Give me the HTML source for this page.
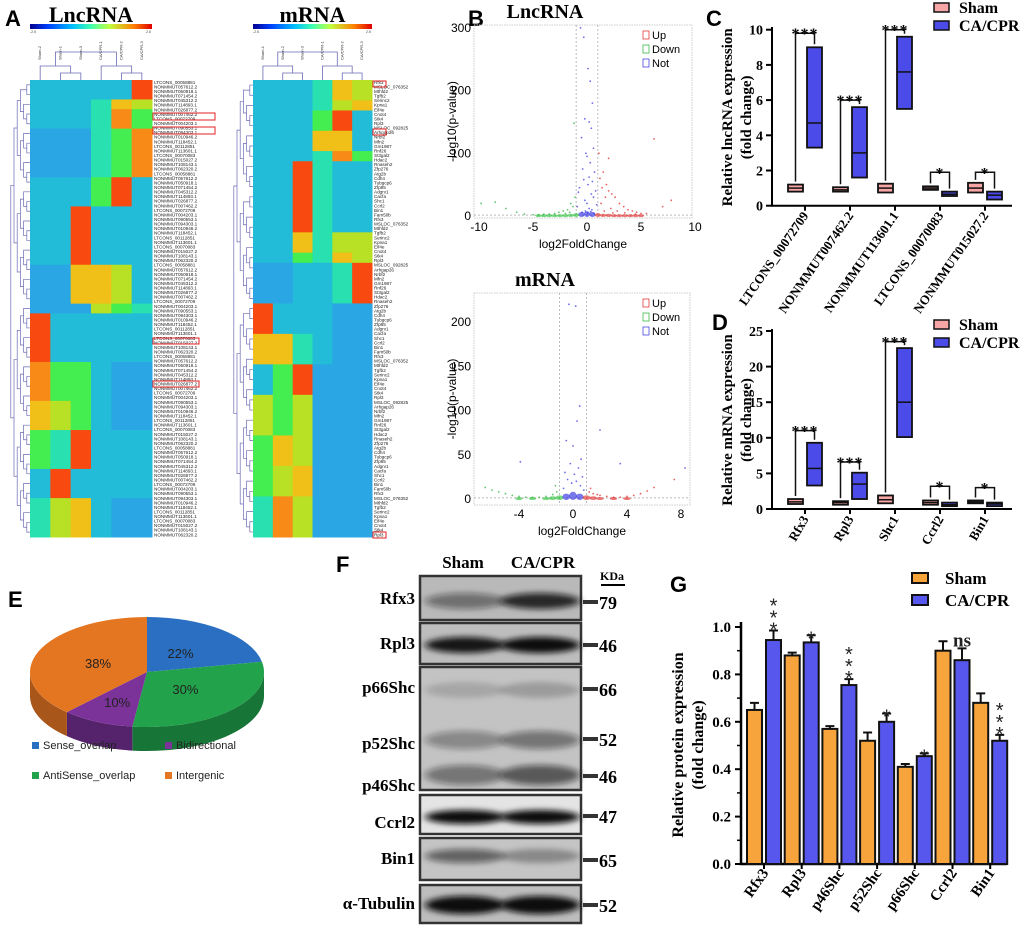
<!DOCTYPE html>
<html><head><meta charset="utf-8"><style>
html,body{margin:0;padding:0;background:#fff;}
svg{display:block;}
.ser{font-family:"Liberation Serif",serif;font-weight:bold;}
.sans{font-family:"Liberation Sans",sans-serif;}
</style></head>
<body>
<svg id="fig" width="1020" height="929" viewBox="0 0 1020 929" xmlns="http://www.w3.org/2000/svg">
<defs>
<linearGradient id="jet" x1="0" x2="1" y1="0" y2="0">
<stop offset="0" stop-color="#00008f"/><stop offset="0.15" stop-color="#0040ff"/><stop offset="0.35" stop-color="#00c0ff"/><stop offset="0.5" stop-color="#40ffb0"/><stop offset="0.65" stop-color="#c0ff40"/><stop offset="0.85" stop-color="#ff8000"/><stop offset="1" stop-color="#e00000"/>
</linearGradient>
<filter id="blur" x="-20%" y="-50%" width="140%" height="200%"><feGaussianBlur stdDeviation="4 3"/></filter>
</defs>
</svg>
<script>
// ---------- DATA ----------
const heatLncRows=[["333339",2],["333476",1],["333485",2],["222458",5],["333593",3],["339333",6],["227763",4],["222654",1],["933333",5],["855322",4],["765322",3],["549333",4],["393333",3],["467322",4]];
const heatMrnaRows=[["333476",2],["333467",1],["333593",2],["333773",2],["333485",1],["339433",7],["337466",2],["335476",1],["223349",4],["933322",3],["774322",3],["359222",3],["656222",4],["576222",3],["567222",3],["486222",4]];
const heatColors=["#00008f","#0050ff","#2aa6e4","#22bcd8","#28e0b0","#44ee50","#b8e024","#f0c018","#f88a18","#f84a10"];
const lncNames=["LTCONS_00058881","NONMMUT057612.2","NONMMUT050918.1","NONMMUT071454.2","NONMMUT045312.2","NONMMUT114893.1","NONMMUT026877.2","NONMMUT007462.2","LTCONS_00072709","NONMMUT004203.1","NONMMUT090553.1","NONMMUT094303.1","NONMMUT010946.2","NONMMUT118452.1","LTCONS_00112851","NONMMUT113601.1","LTCONS_00070083","NONMMUT015027.2","NONMMUT108143.1","NONMMUT062320.2"];
const mrnaNames=["Rfx3","MSLOC_076352","Mthfd2","Tgfb2","Serinc2","Kpna1","Eif4e","Cnot4","Stk4","Rpl3","MSLOC_092825","Arhgap26","Nrbf2","Mfn2","Gm1987","Rnf26","St3gal2","Hdac2","Rnaseh2","Zfp276","Atg2b","Cdh4","Tubgcp6","Zfp85","Adgrv1","Cacfa","Shc1","Ccrl2","Bin1","Fam50b"];
const lncNotX=[-0.6,-0.3,0.1,0.3,0.5,-0.2,0.2,0.4,-0.5,0.6,-0.1,0.0,0.3,-0.4,0.7,0.2,-0.3,0.5,0.1,-0.7,0.8,-0.8,0.4,0.6,-0.2,0.0,0.9,-0.9,0.2,0.45,-0.15,0.35,-0.45,0.05,0.65];
const lncNotY=[300,285,235,215,180,155,150,140,125,108,100,95,85,75,70,62,58,55,50,45,40,38,35,30,25,20,18,15,12,10,8,7,6,5,4];
const lncUpX=[1.2,1.5,1.8,2.0,2.3,2.6,3.0,3.4,3.8,4.2,4.6,5.0,5.5,6.2,7.0,7.8,1.1,1.4,1.7,2.2,2.8,3.5,4.5,1.3,2.0,1.6,2.4];
const lncUpY=[60,70,50,40,35,30,20,15,10,8,6,4,4,123,15,25,100,45,30,12,8,5,3,20,92,8,5];
const lncDownX=[-1.2,-1.5,-1.8,-2.2,-2.6,-3.0,-3.5,-4.0,-4.5,-5.0,-5.8,-6.5,-7.5,-8.5,-9.8,-1.1,-1.3,-1.6,-2.0];
const lncDownY=[148,20,10,8,6,4,3,3,2,2,3,6,12,22,20,30,15,6,4];
const lncBaseX=[-4.5,-4,-3.5,-3,-2.5,-2,-1.5,-1,-0.5,0,0.5,1,1.5,2,2.5,3,3.5,4,4.5,5];
const lncBaseY=[1,1,1,1,1,1,2,3,5,6,5,3,2,2,1,1,1,1,1,1];
const mrnaNotX=[-0.3,0.2,0.5,0.3,-0.5,0.0,0.6,-0.2,0.4,-0.6,0.1,0.7,-0.4,0.25,-0.1,0.55,-0.7,0.8,2.0,-3.9,3.5,8.3];
const mrnaNotY=[220,218,105,88,66,60,45,40,35,30,28,25,22,20,18,15,12,10,78,42,40,35];
const mrnaUpX=[1.2,1.5,2.0,2.5,3.0,3.5,4.0,4.5,5.0,5.5,6.0,1.3,1.8,7.5];
const mrnaUpY=[8,6,4,3,2,2,3,4,6,9,13,12,5,22];
const mrnaDownX=[-1.2,-1.5,-2.0,-2.5,-3.0,-3.5,-4.0,-4.5,-5.0,-5.5,-6.0,-6.5,-1.3];
const mrnaDownY=[8,5,3,2,2,2,3,4,6,8,10,13,15];
const mrnaBaseX=[-4,-3,-2,-1.5,-1,-0.5,0,0.5,1,1.5,2,3,4];
const mrnaBaseY=[1,1,1,2,3,5,7,5,3,2,1,1,1];
const lncCats=["LTCONS_00072709","NONMMUT007462.2","NONMMUT113601.1","LTCONS_00070083","NONMMUT015027.2"];
const lncShamMin=[0.8,0.8,0.75,0.9,0.75], lncShamMed=[1.0,0.9,1.0,1.0,1.0], lncShamMax=[1.2,1.05,1.25,1.1,1.3];
const lncCaMin=[3.3,1.6,5.5,0.55,0.35], lncCaMed=[4.7,3.0,7.6,0.65,0.6], lncCaMax=[9.0,5.6,9.6,0.8,0.8];
const lncSig=["***","***","***","*","*"], lncBracket=[9.8,6.0,10.0,1.9,1.9];
const lncTicks=[0,2,4,6,8,10];
const mCats=["Rfx3","Rpl3","Shc1","Ccrl2","Bin1"];
const mShamMin=[0.7,0.6,0.8,0.6,0.8], mShamMed=[1.0,0.9,1.3,0.9,1.0], mShamMax=[1.4,1.1,1.9,1.2,1.2];
const mCaMin=[3.3,1.4,10.1,0.4,0.4], mCaMed=[5.7,3.5,15.0,0.6,0.7], mCaMax=[9.3,5.1,22.6,0.9,0.9];
const mSig=["***","***","***","*","*"], mBracket=[11,6.6,23.5,3.2,3.0];
const mTicks=[0,5,10,15,20,25];
const pieLabels=["Sense_overlap","AntiSense_overlap","Bidirectional","Intergenic"];
const pieValues=[22,30,10,38];
const protCats=["Rfx3","Rpl3","p46Shc","p52Shc","p66Shc","Ccrl2","Bin1"];
const protSham=[0.65,0.88,0.57,0.52,0.41,0.90,0.68];
const protShamErr=[0.03,0.012,0.012,0.035,0.012,0.04,0.04];
const protCa=[0.945,0.935,0.755,0.60,0.455,0.86,0.52];
const protCaErr=[0.04,0.03,0.025,0.035,0.012,0.05,0.025];
const protSig=["***","*","***","*","*","ns","***"];
const protTicks=[0,0.2,0.4,0.6,0.8,1.0];

// ---------- HELPERS ----------
const NS="http://www.w3.org/2000/svg";
const svg=document.getElementById("fig");
function mk(tag,attrs,parent){const e=document.createElementNS(NS,tag);for(const k in attrs)e.setAttribute(k,attrs[k]);(parent||svg).appendChild(e);return e;}
function tx(x,y,s,attrs,parent){const t=mk("text",Object.assign({x:x,y:y},attrs||{}),parent);t.textContent=s;return t;}
function grp(name){const g=mk("g",{});return g;}

[["A",5,26],["B",468,26],["C",706,26],["D",712,330],["E",8,607],["F",336,572],["G",670,592]].forEach(function(p){
  const t=tx(p[1],p[2],p[0],{"font-family":"Liberation Sans,sans-serif","font-weight":"bold","font-size":"22"});
  
  
});

// ---------- PANEL A ----------
function heatmap(rows,x0,x1,y0,y1,names,title,samples,key){
  const g=grp("heatmap-"+key);
  const t=tx((x0+x1)/2,22,title,{"class":"ser","font-size":"22","text-anchor":"middle"},g);
  
  
  const cb=mk("rect",{x:x0,y:24,width:x1-x0,height:5,fill:"url(#jet)"},g);
  
  
  tx(x0,33,"-2.5",{"font-size":"3.5","fill":"#444","font-family":"Liberation Sans,sans-serif"},g);
  tx(x1-6,33,"2.5",{"font-size":"3.5","fill":"#444","font-family":"Liberation Sans,sans-serif"},g);
  let expanded=[];rows.forEach(function(r){for(let i=0;i<r[1];i++)expanded.push(r[0]);});
  const rh=(y1-y0)/expanded.length, cw=(x1-x0)/6;
  expanded.forEach(function(s,ri){
    for(let c=0;c<6;c++){
      const cell=mk("rect",{x:x0+c*cw,y:y0+ri*rh,width:cw+0.5,height:rh+0.5,fill:heatColors[+s[c]]},g);
      
      
    }
  });
  const nLab=100, lh=(y1-y0)/nLab;
  for(let i=0;i<nLab;i++){
    const l=tx(x1+2,y0+i*lh+lh*0.85,names[i%names.length],{"font-size":"4.6","font-family":"Liberation Sans,sans-serif","fill":"#222"},g);
    
    
  }
  samples.forEach(function(s,c){
    const l=tx(0,0,s,{"font-size":"4","font-family":"Liberation Sans,sans-serif","fill":"#333","transform":"translate("+(x0+c*cw+cw/2+1)+",60) rotate(-90)"},g);
    
    
  });
  const dc="#6b6bb5";
  function topTree(lo,hi){ if(hi-lo===1) return {x:x0+lo*cw+cw/2,y:y0};
    const m=Math.floor((lo+hi)/2);const a=topTree(lo,m),b=topTree(m,hi);const y=Math.min(a.y,b.y)-(hi-lo>=6?14:7);
    const p=mk("path",{d:"M"+a.x+","+a.y+"V"+y+"H"+b.x+"V"+b.y,fill:"none",stroke:dc,"stroke-width":"0.8"},g);
    
    
    return {x:(a.x+b.x)/2,y:y};}
  topTree(0,6);
  const n=expanded.length;
  function leftTree(lo,hi){ if(hi-lo===1) return {x:x0,y:y0+lo*rh+rh/2};
    const m=Math.floor((lo+hi)/2);const a=leftTree(lo,m),b=leftTree(m,hi);const x=Math.min(a.x,b.x)-3.2;
    const p=mk("path",{d:"M"+a.x+","+a.y+"H"+x+"V"+b.y+"H"+b.x,fill:"none",stroke:dc,"stroke-width":"0.7"},g);
    
    
    return {x:x,y:(a.y+b.y)/2};}
  leftTree(0,n);
}
heatmap(heatLncRows,30,152,80,537,lncNames,"LncRNA",["Sham-2","Sham-1","Sham-3","CA/CPR-1","CA/CPR-2","CA/CPR-3"],"lncrna");
heatmap(heatMrnaRows,253,372,80,537,mrnaNames,"mRNA",["Sham-1","Sham-2","Sham-3","CA/CPR-1","CA/CPR-2","CA/CPR-3"],"mrna");
[[153,113,62,7],[153,127,62,7],[153,338,46,6],[153,381,46,6],[373,81,13,6],[373,129,13,6],[373,532,13,6]].forEach(function(b){
  const r=mk("rect",{x:b[0],y:b[1],width:b[2],height:b[3],fill:"none",stroke:"#e02020","stroke-width":"1"});
  
  
});

// ---------- PANEL B ----------
function volcano(key,title,fx0,fx1,fy0,fy1,x0px,xs,y0px,ys,xt,yt,titleY,data){
  const g=grp("volcano-"+key);
  const X=function(v){return x0px+xs*v;}, Y=function(v){return y0px-ys*v;};
  const t=tx(545,titleY,title,{"class":"ser","font-size":"20","text-anchor":"middle"},g);
  
  
  const fr=mk("rect",{x:fx0,y:fy0,width:fx1-fx0,height:fy1-fy0,fill:"none",stroke:"#ccc","stroke-width":"1","stroke-dasharray":"1.5,1"},g);
  
  
  [-1,1].forEach(function(v){const l=mk("line",{x1:X(v),x2:X(v),y1:fy0,y2:fy1,stroke:"#bbb","stroke-dasharray":"2,2"},g);
    
    });
  const hl=mk("line",{x1:fx0,x2:fx1,y1:Y(1.3),y2:Y(1.3),stroke:"#bbb","stroke-dasharray":"2,2"},g);
  
  
  function pts(xa,ya,col,r,nm){xa.forEach(function(v,i){
    const c=mk("circle",{cx:X(v),cy:Y(ya[i]),r:r,fill:col,"fill-opacity":"0.7"},g);
    
    });}
  data.base[0].forEach(function(v,i){
    const col=v>=1?"#e02020":(v<=-1?"#20c030":"#2020e0");
    const e=mk("ellipse",{cx:X(v),cy:Y(data.base[1][i]/2),rx:xs*0.28,ry:Math.max(1.5,ys*data.base[1][i]/2+1),fill:col,"fill-opacity":"0.6"},g);
    
    
  });
  pts(data.not[0],data.not[1],"#3030e0",0.9,"not-point");
  pts(data.up[0],data.up[1],"#e02020",0.9,"up-point");
  pts(data.down[0],data.down[1],"#20b030",0.9,"down-point");
  xt.forEach(function(v){const l=tx(X(v),fy1+13,String(v),{"class":"sans","font-size":"12","text-anchor":"middle"},g);
    
    });
  yt.forEach(function(v){const l=tx(fx0-3,Y(v)+4,String(v),{"class":"sans","font-size":"12","text-anchor":"end"},g);
    
    });
  const xl=tx((fx0+fx1)/2,fy1+30,"log2FoldChange",{"class":"sans","font-size":"12","text-anchor":"middle"},g);
  
  
  const yl=tx(0,0,"-log10(p-value)",{"class":"sans","font-size":"12","text-anchor":"middle","transform":"translate(456,"+((fy0+fy1)/2)+") rotate(-90)"},g);
  
  
  [["Up","#e02020"],["Down","#20b030"],["Not","#3030e0"]].forEach(function(e,i){
    const yy=fy0+6+i*14;
    const b=mk("rect",{x:643,y:yy,width:6,height:8,fill:"none",stroke:e[1],"stroke-width":"0.7"},g);
    
    
    const l=tx(652,yy+8,e[0],{"class":"sans","font-size":"11"},g);
    
    
  });
}
volcano("lncrna","LncRNA",474,692,25,218,587,10.8,216,0.627,[-10,-5,0,5,10],[0,100,200,300],18,
  {not:[lncNotX,lncNotY],up:[lncUpX,lncUpY],down:[lncDownX,lncDownY],base:[lncBaseX,lncBaseY]});
volcano("mrna","mRNA",474,690,293,505,573,13.5,499,0.885,[-4,0,4,8],[0,50,100,150,200],286,
  {not:[mrnaNotX,mrnaNotY],up:[mrnaUpX,mrnaUpY],down:[mrnaDownX,mrnaDownY],base:[mrnaBaseX,mrnaBaseY]});

// ---------- PANELS C & D ----------
function boxPanel(key,cats,sMin,sMed,sMax,cMin,cMed,cMax,sig,br,ticks,y0px,ys,yTop,title,labAngle,legY){
  const g=grp("boxplot-"+key);
  const Y=function(v){return y0px-ys*v;}, GX=function(i){return 805+i*45;};
  const ax=mk("path",{d:"M772,"+(yTop-2)+"V"+y0px+"H1012",fill:"none",stroke:"#000","stroke-width":"2"},g);
  
  
  ticks.forEach(function(v){
    const tk=mk("line",{x1:766,x2:772,y1:Y(v),y2:Y(v),stroke:"#000","stroke-width":"2"},g);
    
    
    const l=tx(763,Y(v)+5,String(v),{"class":"ser","font-size":"14","text-anchor":"end"},g);
    
    
  });
  cats.forEach(function(c,i){
    const gx=GX(i);
    const tk=mk("line",{x1:gx,x2:gx,y1:y0px,y2:y0px+5,stroke:"#000","stroke-width":"2"},g);
    
    
    const l=tx(0,0,c,{"class":"ser","font-size":"13","text-anchor":"end","transform":"translate("+(gx+4)+","+(y0px+10)+") rotate("+labAngle+")"},g);
    
    
    const sx=gx-17, cx=gx+2;
    const b1=mk("rect",{x:sx,y:Y(sMax[i]),width:15,height:Y(sMin[i])-Y(sMax[i]),fill:"#f7a5a5",stroke:"#111","stroke-width":"1.8"},g);
    
    
    const m1=mk("line",{x1:sx,x2:sx+15,y1:Y(sMed[i]),y2:Y(sMed[i]),stroke:"#111","stroke-width":"1.5"},g);
    
    
    const b2=mk("rect",{x:cx,y:Y(cMax[i]),width:15,height:Y(cMin[i])-Y(cMax[i]),fill:"#4b4bea",stroke:"#111","stroke-width":"1.8"},g);
    
    
    const m2=mk("line",{x1:cx,x2:cx+15,y1:Y(cMed[i]),y2:Y(cMed[i]),stroke:"#111","stroke-width":"1.5"},g);
    
    
    const bk=mk("path",{d:"M"+(sx+7.5)+","+(Y(sMax[i])-3)+"V"+Y(br[i])+"H"+(cx+7.5)+"V"+(Y(cMax[i])-3),fill:"none",stroke:"#111","stroke-width":"1.5"},g);
    
    
    const st=tx((sx+cx+15)/2,Y(br[i])+6,sig[i],{"class":"ser","font-size":"16","text-anchor":"middle","letter-spacing":"1"},g);
    
    
  });
  const cy=(yTop+y0px)/2;
  const t1=tx(0,0,title,{"class":"ser","font-size":"15","text-anchor":"middle","transform":"translate(732,"+cy+") rotate(-90)"},g);
  
  
  const t2=tx(0,0,"(fold change)",{"class":"ser","font-size":"15","text-anchor":"middle","transform":"translate(751,"+cy+") rotate(-90)"},g);
  
  
  [["Sham","#f7a5a5"],["CA/CPR","#4b4bea"]].forEach(function(e,i){
    const yy=legY+i*18;
    const b=mk("rect",{x:934,y:yy,width:15,height:9,fill:e[1],stroke:"#111","stroke-width":"1.5"},g);
    
    
    const l=tx(959,yy+10,e[0],{"class":"ser","font-size":"16"},g);
    
    
  });
}
boxPanel("lncrna",lncCats,lncShamMin,lncShamMed,lncShamMax,lncCaMin,lncCaMed,lncCaMax,lncSig,lncBracket,lncTicks,205.7,17.6,29,"Relative lncRNA expression",-55,3);
boxPanel("mrna",mCats,mShamMin,mShamMed,mShamMax,mCaMin,mCaMed,mCaMax,mSig,mBracket,mTicks,509,7.12,331,"Relative mRNA expression",-60,320);

// ---------- PANEL E ----------
(function(){
  const g=grp("pie-chart");
  const cx=147,cy=672,rx=117,ry=55,dp=24;
  const cols=["#2a6fc2","#22a24a","#7b3399","#e47622"], dark=["#1d4f8c","#187538","#55236b","#a8561a"];
  const P=function(a,dy){const r=a*Math.PI/180;return [cx+rx*Math.sin(r),cy-ry*Math.cos(r)+(dy||0)];};
  const tot=pieValues.reduce(function(a,b){return a+b;},0);
  let a=0; const ang=[];
  pieValues.forEach(function(v){ang.push([a,a+v/tot*360]);a+=v/tot*360;});
  ang.forEach(function(r,i){
    const s=Math.max(r[0],90), e=Math.min(r[1],270);
    if(e<=s)return;
    const p1=P(s),p2=P(e),p3=P(e,dp),p4=P(s,dp);
    const d="M"+p1+"A"+rx+","+ry+" 0 0,1 "+p2+"L"+p3+"A"+rx+","+ry+" 0 0,0 "+p4+"Z";
    const side=mk("path",{d:d,fill:dark[i]},g);
    
    
  });
  ang.forEach(function(r,i){
    const p1=P(r[0]),p2=P(r[1]);
    const large=(r[1]-r[0])>180?1:0;
    const sl=mk("path",{d:"M"+cx+","+cy+"L"+p1+"A"+rx+","+ry+" 0 "+large+",1 "+p2+"Z",fill:cols[i]},g);
    
    
    const m=(r[0]+r[1])/2*Math.PI/180;
    const f=i===2?0.6:0.45;
    const l=tx(cx+rx*f*Math.sin(m),cy-ry*f*Math.cos(m)+5,pieValues[i]+"%",{"class":"sans","font-size":"13","text-anchor":"middle","fill":"#222"},g);
    
    
  });
  const pos=[[32,742],[32,772],[165,742],[165,772]];
  pieLabels.forEach(function(n,i){
    const b=mk("rect",{x:pos[i][0],y:pos[i][1],width:7,height:7,fill:cols[i]},g);
    
    
    const l=tx(pos[i][0]+11,pos[i][1]+7,n,{"class":"sans","font-size":"11","fill":"#222"},g);
    
    
  });
})();

// ---------- PANEL F ----------
(function(){
  const g=grp("western-blot");
  const h1=tx(463,568,"Sham",{"class":"ser","font-size":"17","text-anchor":"middle"},g);
  
  
  const h2=tx(543,568,"CA/CPR",{"class":"ser","font-size":"17","text-anchor":"middle"},g);
  
  
  const kd=tx(612,580,"KDa",{"class":"ser","font-size":"12","text-anchor":"middle"},g);
  
  
  const ku=mk("line",{x1:601,x2:625,y1:585,y2:585,stroke:"#000","stroke-width":"2"},g);
  
  
  const blots=[[576,620,"#b9b9b9",[[601,0.45,0.85,8]]],[623,664,"#bdbdbd",[[645,0.95,1,8]]],[667,790,"#c3c3c3",[[690,0.15,0.2,8],[740,0.35,0.45,9],[775,0.45,0.6,10]]],[795,834,"#e4e4e4",[[817,1,1,7]]],[838,880,"#c4c4c4",[[856,0.55,0.3,7]]],[885,923,"#bdbdbd",[[905,1,1,9]]]];
  blots.forEach(function(b){
    const r=mk("rect",{x:420,y:b[0],width:161,height:b[1]-b[0],fill:b[2],stroke:"#333","stroke-width":"2.5"},g);
    
    
    b[3].forEach(function(bd){
      const e1=mk("ellipse",{cx:465,cy:bd[0],rx:40,ry:bd[3],fill:"#111","fill-opacity":bd[1],filter:"url(#blur)"},g);
      
      
      const e2=mk("ellipse",{cx:540,cy:bd[0],rx:40,ry:bd[3],fill:"#111","fill-opacity":bd[2],filter:"url(#blur)"},g);
      
      
    });
  });
  const labs=[["Rfx3",604],["Rpl3",649],["p66Shc",693],["p52Shc",749],["p46Shc",791],["Ccrl2",828],["Bin1",864],["α-Tubulin",909]];
  labs.forEach(function(l){const t=tx(415,l[1],l[0],{"class":"ser","font-size":"17","text-anchor":"end"},g);
    
    });
  const mw=[["79",602],["46",645],["66",689],["52",739],["46",776],["47",816],["65",860],["52",905]];
  mw.forEach(function(m){
    const l=mk("line",{x1:583,x2:598,y1:m[1],y2:m[1],stroke:"#333","stroke-width":"4"},g);
    
    
    const t=tx(599,m[1]+7,m[0],{"class":"ser","font-size":"18"},g);
    
    
  });
})();

// ---------- PANEL G ----------
(function(){
  const g=grp("protein-bar-chart");
  const Y=function(v){return 864-237*v;}, GX=function(i){return 747+37.7*i;};
  const ax=mk("path",{d:"M741,622V864H1007",fill:"none",stroke:"#000","stroke-width":"2.5"},g);
  
  
  protTicks.forEach(function(v){
    const tk=mk("line",{x1:735,x2:741,y1:Y(v),y2:Y(v),stroke:"#000","stroke-width":"2"},g);
    
    
    const l=tx(731,Y(v)+5,v.toFixed(1),{"class":"ser","font-size":"15","text-anchor":"end"},g);
    
    
  });
  [0.1,0.3,0.5,0.7,0.9].forEach(function(v){
    const tk=mk("line",{x1:737,x2:741,y1:Y(v),y2:Y(v),stroke:"#000","stroke-width":"1.5"},g);
    
    
  });
  protCats.forEach(function(c,i){
    const ox=GX(i), bx=ox+19;
    const tk=mk("line",{x1:ox+17,x2:ox+17,y1:864,y2:869,stroke:"#000","stroke-width":"2"},g);
    
    
    const l=tx(0,0,c,{"class":"ser","font-size":"15","text-anchor":"end","transform":"translate("+(ox+22)+",873) rotate(-55)"},g);
    
    
    [[ox,protSham[i],protShamErr[i],"#f8a43c","sham-bar"],[bx,protCa[i],protCaErr[i],"#5757ee","ca-cpr-bar"]].forEach(function(b){
      const r=mk("rect",{x:b[0],y:Y(b[1]),width:15,height:864-Y(b[1]),fill:b[3],stroke:"#111","stroke-width":"2"},g);
      
      
      const e=mk("path",{d:"M"+(b[0]+7.5)+","+Y(b[1])+"V"+Y(b[1]+b[2])+"M"+(b[0]+3)+","+Y(b[1]+b[2])+"H"+(b[0]+12),fill:"none",stroke:"#111","stroke-width":"2"},g);
      
      
    });
    const top=Y(protCa[i]+protCaErr[i]);
    const s=protSig[i];
    if(s==="***"){
      for(let k=0;k<3;k++){const st=tx(bx+7.5,top+6-k*12,"*",{"class":"sans","font-size":"20","text-anchor":"middle","fill":"#222"},g);
        
        }
    } else {
      const st=tx(bx+7.5,top+(s==="*"?10:-2),s,{"class":s==="ns"?"ser":"sans","font-size":s==="ns"?"19":"20","text-anchor":"middle","fill":"#222","font-weight":"normal"},g);
      
      
    }
  });
  const t1=tx(0,0,"Relative protein expression",{"class":"ser","font-size":"16","text-anchor":"middle","transform":"translate(683,745) rotate(-90)"},g);
  
  
  const t2=tx(0,0,"(fold change)",{"class":"ser","font-size":"16","text-anchor":"middle","transform":"translate(703,745) rotate(-90)"},g);
  
  
  [["Sham","#f8a43c"],["CA/CPR","#5757ee"]].forEach(function(e,i){
    const yy=573+i*22;
    const b=mk("rect",{x:912,y:yy,width:16,height:10,fill:e[1],stroke:"#111","stroke-width":"2"},g);
    
    
    const l=tx(945,yy+11,e[0],{"class":"ser","font-size":"17"},g);
    
    
  });
})();
</script>
</body></html>
